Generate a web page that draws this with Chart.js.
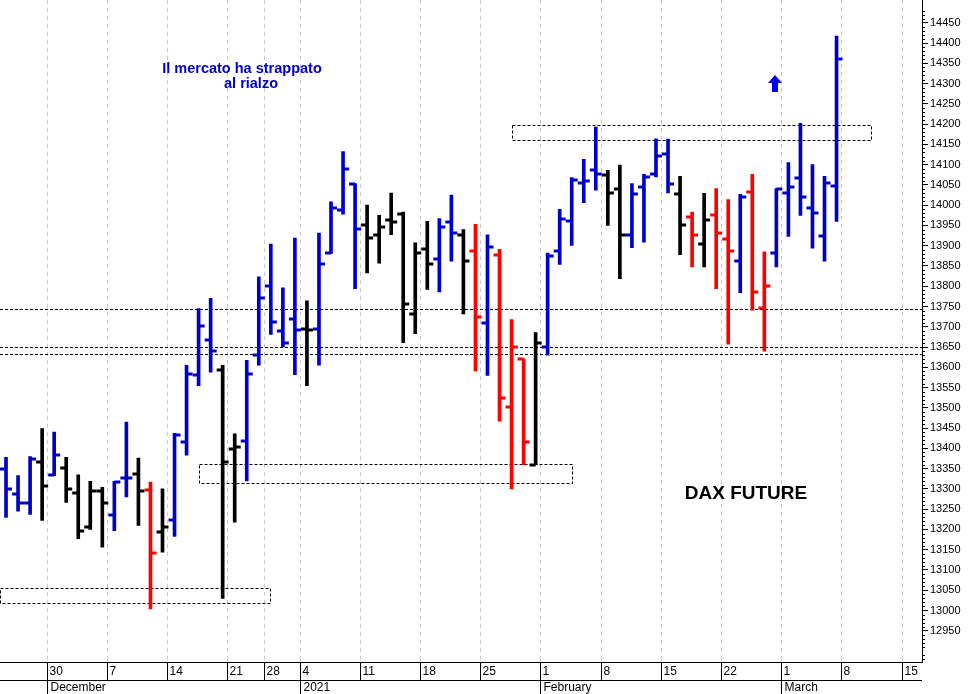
<!DOCTYPE html>
<html>
<head>
<meta charset="utf-8">
<script src="https://cdn.jsdelivr.net/npm/chart.js@4"></script>
<style>
  body { margin: 0; background: #fff; }
  #wrap { width: 973px; height: 694px; }
</style>
</head>
<body>
<div id="wrap"><canvas id="chart"></canvas></div>
<script>
// DAX future daily bars, 25 Nov 2020 - 8 Mar 2021 (one entry per trading day)
const opens  = [13350,13288,13265,13366,13335,13352,13290,13206,13296,13236,13328,13337,13298,13193,13224,
                13416,13580,13668,13594,13398,13417,13631,13801,13690,13718,13695,13695,13881,13988,14053,
                13950,13926,13963,13978,13731,13893,13868,13959,13927,13887,13710,13878,13502,13621,13360,
                13650,13886,13962,14055,14088,14074,14039,13926,14045,14078,14126,14027,13971,13904,13975,
                13916,13862,14033,13747,13881,14031,14066,13992,13923,14047];
const highs  = [13378,13333,13380,13449,13440,13378,13335,13319,13304,13319,13465,13376,13317,13300,13437,
                13605,13745,13770,13605,13436,13617,13823,13904,13796,13919,13764,13931,14008,14132,14053,
                14000,13975,14030,13983,13907,13960,13967,14025,13940,13953,13927,13891,13718,13621,13686,
                13882,13990,14068,14113,14193,14086,14099,14053,14076,14164,14163,14071,13983,14029,14041,
                14014,14027,14076,13885,14041,14105,14202,14100,14071,14417];
const lows   = [13230,13245,13237,13222,13333,13267,13177,13200,13156,13197,13280,13210,13004,13144,13183,
                13383,13555,13588,13030,13218,13320,13605,13681,13650,13582,13555,13605,13881,13978,13794,
                13833,13857,13927,13661,13683,13792,13786,13862,13732,13591,13580,13467,13300,13360,13360,
                13630,13854,13901,14006,14037,13950,13819,13895,13909,14070,14030,13878,13848,13848,13794,
                13657,13784,13741,13640,13848,13923,13975,13894,13862,13960];
const closes = [13300,13265,13375,13306,13383,13301,13197,13296,13266,13316,13326,13294,13142,13207,13432,
                13584,13701,13640,13366,13404,13583,13770,13711,13661,13693,13693,13856,13992,14090,13942,
                13919,13946,13959,13755,13883,13854,13945,13932,13862,13723,13896,13524,13649,13416,13660,
                13874,13965,14063,14060,14076,14030,13926,14027,14070,14121,14052,13950,13926,13963,13932,
                13887,14020,13786,13800,14039,14044,14020,13980,14054,14360];
// bar colour code: u = blue, n = black, d = red
const trend  = "uuununnnnuundnu" + "uuunnuuuuunuuuu" + "nnnnnnuundudddn" + "uuuuunnuuuundnd" + "dudduuuuuu";

// Monday positions (trading-day index) and their labels
const weekIdx    = [3, 8, 13, 18, 21, 24, 29, 34, 39, 44, 49, 54, 59, 64, 69, 74];
const weekLabels = ['30','7','14','21','28','4','11','18','25','1','8','15','22','1','8','15'];
const monthIdx    = [3, 24, 44, 64];
const monthLabels = ['December', '2021', 'February', 'March'];

// dashed support/resistance zones: [fromIdx, toIdx, low, high]
const zones = [[-0.5, 21.9, 13018, 13056], [16, 47, 13315, 13362], [42, 71.9, 14162, 14197]];
const levels = [13745, 13651, 13632];

const COLORS = { u: '#0000cc', n: '#000000', d: '#ff0000' };
const barColors = trend.split('').map(c => COLORS[c]);

const ohlcPlugin = {
  id: 'ohlc',
  beforeDatasetsDraw(chart) {
    const { ctx, chartArea: a, scales: { x, y } } = chart;
    ctx.save();
    ctx.strokeStyle = '#c8c8d0';
    ctx.lineWidth = 1;
    ctx.setLineDash([4, 4]);
    weekIdx.forEach(i => {
      const px = Math.round(x.getPixelForValue(i + 0.4)) + 0.5;
      ctx.beginPath(); ctx.moveTo(px, 0); ctx.lineTo(px, a.bottom); ctx.stroke();
    });
    // zones and levels
    ctx.strokeStyle = '#000';
    ctx.setLineDash([3, 2]);
    levels.forEach(v => {
      const py = Math.round(y.getPixelForValue(v)) + 0.5;
      ctx.beginPath(); ctx.moveTo(a.left, py); ctx.lineTo(a.right, py); ctx.stroke();
    });
    zones.forEach(z => {
      const x0 = Math.round(x.getPixelForValue(z[0])) + 0.5, x1 = Math.round(x.getPixelForValue(z[1])) + 0.5;
      const y0 = Math.round(y.getPixelForValue(z[3])) + 0.5, y1 = Math.round(y.getPixelForValue(z[2])) + 0.5;
      ctx.strokeRect(x0, y0, x1 - x0, y1 - y0);
    });
    ctx.restore();
  },
  afterDatasetsDraw(chart) {
    const { ctx, chartArea: a, scales: { x, y } } = chart;
    ctx.save();
    ctx.lineWidth = 3;
    opens.forEach((o, i) => {
      const px = x.getPixelForValue(i);
      ctx.strokeStyle = barColors[i];
      const po = Math.round(y.getPixelForValue(o)), pc = Math.round(y.getPixelForValue(closes[i]));
      ctx.beginPath(); ctx.moveTo(px - 6, po); ctx.lineTo(px, po); ctx.stroke();
      ctx.beginPath(); ctx.moveTo(px, pc); ctx.lineTo(px + 6, pc); ctx.stroke();
    });
    // annotations
    ctx.fillStyle = '#0000cc';
    ctx.font = 'bold 14.5px Arial, "Liberation Sans", sans-serif';
    ctx.textAlign = 'center';
    ctx.textBaseline = 'middle';
    ctx.fillText('Il mercato ha strappato', 242, 69);
    ctx.fillText('al rialzo', 251, 84);
    ctx.fillStyle = '#000';
    ctx.font = 'bold 19px Arial, "Liberation Sans", sans-serif';
    ctx.fillText('DAX FUTURE', 746, 494);
    // up arrow
    ctx.fillStyle = '#0000ee';
    ctx.beginPath();
    ctx.moveTo(775, 75); ctx.lineTo(782, 83); ctx.lineTo(778, 83); ctx.lineTo(778, 92);
    ctx.lineTo(772, 92); ctx.lineTo(772, 83); ctx.lineTo(768, 83); ctx.closePath(); ctx.fill();

    // bottom date axis
    ctx.fillStyle = '#000';
    ctx.strokeStyle = '#000';
    ctx.lineWidth = 1;
    ctx.beginPath();
    ctx.moveTo(0, a.bottom + 0.5); ctx.lineTo(a.right, a.bottom + 0.5);
    ctx.moveTo(0, a.bottom + 18.5); ctx.lineTo(a.right, a.bottom + 18.5);
    ctx.moveTo(a.right + 0.5, 0); ctx.lineTo(a.right + 0.5, a.top);
    ctx.stroke();
    ctx.font = '12px Arial, "Liberation Sans", sans-serif';
    ctx.textAlign = 'left';
    ctx.textBaseline = 'middle';
    weekIdx.forEach((i, k) => {
      const px = Math.round(x.getPixelForValue(i + 0.4)) + 0.5;
      ctx.beginPath(); ctx.moveTo(px, a.bottom); ctx.lineTo(px, a.bottom + 18); ctx.stroke();
      ctx.fillText(weekLabels[k], px + 2, a.bottom + 10);
    });
    monthIdx.forEach((i, k) => {
      const px = Math.round(x.getPixelForValue(i + 0.4)) + 0.5;
      ctx.beginPath(); ctx.moveTo(px, a.bottom + 18); ctx.lineTo(px, a.bottom + 32); ctx.stroke();
      ctx.fillText(monthLabels[k], px + 3, a.bottom + 26);
    });
    // minor ticks on price axis
    for (let v = 12880; v <= 14480; v += 10) {
      if (v % 50 === 0) continue;
      const py = Math.round(y.getPixelForValue(v)) + 0.5;
      ctx.beginPath(); ctx.moveTo(a.right, py); ctx.lineTo(a.right + 3, py); ctx.stroke();
    }
    ctx.restore();
  }
};

new Chart(document.getElementById('chart'), {
  type: 'bar',
  data: {
    datasets: [{
      data: lows.map((l, i) => ({ x: i, y: [l, highs[i]] })),
      backgroundColor: barColors,
      barThickness: 3,
      borderWidth: 0
    }]
  },
  options: {
    responsive: true,
    maintainAspectRatio: false,
    animation: false,
    layout: { padding: { left: 0, top: 0, bottom: 32, right: 0 } },
    plugins: { legend: { display: false }, tooltip: { enabled: false } },
    scales: {
      x: { type: 'linear', min: -0.5, max: 76.1, display: false, offset: false },
      y: {
        position: 'right',
        min: 12873, max: 14485,
        afterBuildTicks: s => { s.ticks = s.ticks.filter(t => t.value % 50 === 0); },
        afterFit: s => { s.width = 51; },
        ticks: { stepSize: 50, autoSkip: false, color: '#000', padding: 2,
                 callback: v => String(v),
                 font: { family: 'Arial, "Liberation Sans", sans-serif', size: 11 } },
        grid: { drawOnChartArea: false, color: '#000', tickLength: 6 },
        border: { color: '#000' }
      }
    }
  },
  plugins: [ohlcPlugin]
});
</script>
</body>
</html>
